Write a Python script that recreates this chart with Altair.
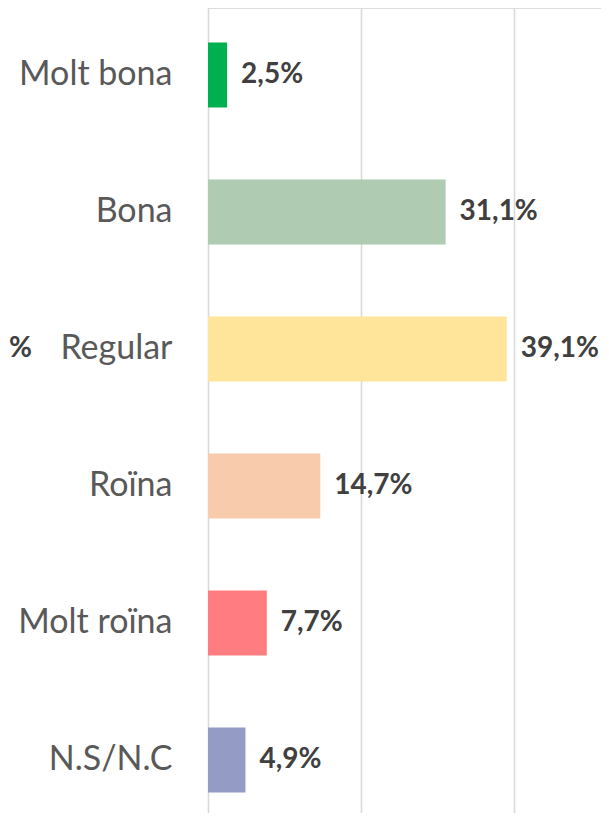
import altair as alt
import pandas as pd

categories = ["Molt bona", "Bona", "Regular", "Roïna", "Molt roïna", "N.S/N.C"]
values = [2.5, 31.1, 39.1, 14.7, 7.7, 4.9]
colors = ["#00B050", "#AFCCB3", "#FEE599", "#F8CBAD", "#FF7C80", "#949CC6"]
grid_values = [0, 20, 40]

df = pd.DataFrame({
    "cat": categories,
    "val": values,
    "label": [f"{v:.1f}".replace(".", ",") + "%" for v in values],
})

FONT = "Lato"

y_enc = alt.Y(
    "cat:N",
    sort=categories,
    scale=alt.Scale(paddingInner=0.525, paddingOuter=0.2625, range=[-1.5, 820.5]),
    axis=alt.Axis(
        title=None, ticks=False, domain=False, grid=False,
        labelFont=FONT, labelFontSize=34, labelColor="#595959",
        labelPadding=36, labelLimit=300,
    ),
)
x_enc = alt.X(
    "val:Q",
    scale=alt.Scale(domain=[0, 51.44], nice=False, zero=True),
    axis=alt.Axis(
        title=None, labels=False, ticks=False, domain=False,
        values=grid_values, grid=True, gridColor="#D9D9D9", gridWidth=1.6,
    ),
)

bars = alt.Chart(df).mark_bar().encode(
    y=y_enc,
    x=x_enc,
    color=alt.Color("cat:N", scale=alt.Scale(domain=categories, range=colors), legend=None),
)

texts = alt.Chart(df).mark_text(
    align="left", baseline="middle", dx=14, font=FONT, fontSize=28,
    fontWeight="bold", color="#404040",
).encode(
    y=alt.Y("cat:N", sort=categories),
    x="val:Q",
    text="label:N",
)

stray = alt.Chart(pd.DataFrame({"cat": ["Regular"], "t": ["%"]})).mark_text(
    align="left", baseline="middle", font=FONT, fontSize=28,
    fontWeight="bold", color="#404040", clip=False,
).encode(
    y=alt.Y("cat:N", sort=categories),
    x=alt.value(-199),
    text="t:N",
)

chart = alt.layer(bars, texts, stray).properties(
    width=393, height=805,
    autosize=alt.AutoSizeParams(type="none"),
    padding={"left": 200, "top": 0, "right": 0, "bottom": 0},
).configure_view(stroke=None).configure(background="white")

chart.save("out.html", embed_options={"renderer": "svg", "actions": False})
